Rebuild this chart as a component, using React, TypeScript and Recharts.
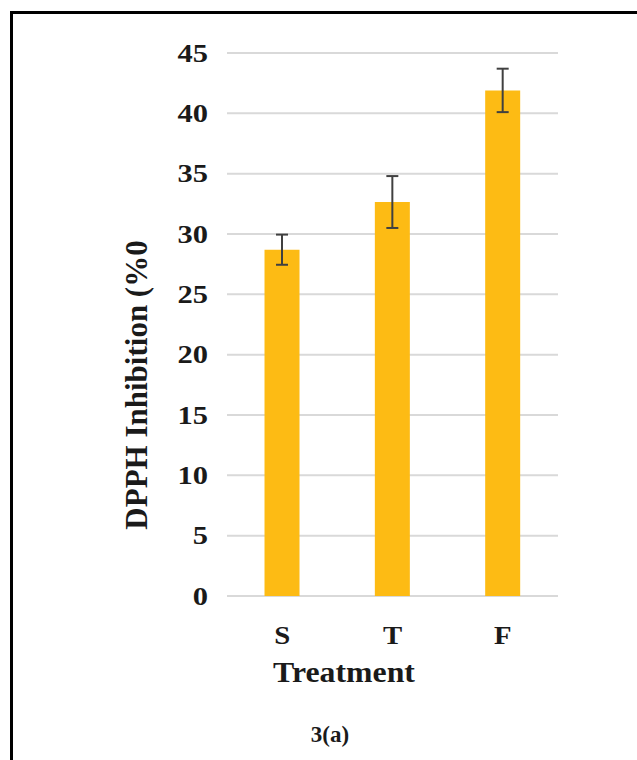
import React from "react";
import { BarChart, Bar, XAxis, YAxis, CartesianGrid, ErrorBar, Label } from "recharts";

const categories = ["S", "T", "F"];
const inhibition = [28.7, 32.65, 41.9];
const errors = [1.25, 2.15, 1.8];
const yTicks = [0, 5, 10, 15, 20, 25, 30, 35, 40, 45];

const data = categories.map((c, i) => ({ name: c, value: inhibition[i], err: errors[i] }));

const FONT = "'Liberation Serif', 'Times New Roman', serif";

const YTick = (props: any) => {
  const { x, y, payload } = props;
  return (
    <text
      transform={`translate(${x},${y}) scale(1.22,1)`}
      x={0}
      y={0}
      dy="0.35em"
      textAnchor="end"
      fontFamily={FONT}
      fontWeight="bold"
      fontSize={25}
      fill="#1a1a1a"
    >
      {payload.value}
    </text>
  );
};

const XTick = (props: any) => {
  const { x, y, payload } = props;
  return (
    <text
      transform={`translate(${x},${y}) scale(1.15,1)`}
      x={0}
      y={0}
      dy="0.71em"
      textAnchor="middle"
      fontFamily={FONT}
      fontWeight="bold"
      fontSize={25}
      fill="#1a1a1a"
    >
      {payload.value}
    </text>
  );
};

export default function App() {
  return (
    <div style={{ position: "fixed", left: 0, top: 0, width: 637, height: 760, overflow: "hidden", background: "#fff" }}>
      <div
        style={{
          position: "absolute",
          left: 10,
          top: 11,
          width: 700,
          height: 800,
          borderLeft: "3px solid #000",
          borderTop: "3px solid #000",
        }}
      />
      <div style={{ position: "absolute", left: 0, top: 0 }}>
        <BarChart
          width={637}
          height={760}
          data={data}
          margin={{ top: 53, right: 79, bottom: 0, left: 0 }}
          barCategoryGap="34%"
        >
          <CartesianGrid vertical={false} stroke="#d9d9d9" strokeWidth={2} />
          <XAxis
            dataKey="name"
            axisLine={false}
            tickLine={false}
            tickSize={0}
            tickMargin={30}
            tick={<XTick />}
            height={164}
          >
            <Label
              content={() => (
                <text
                  transform="translate(344,682) scale(1.06,1)"
                  x={0}
                  y={0}
                  textAnchor="middle"
                  fontFamily={FONT}
                  fontWeight="bold"
                  fontSize={30}
                  fill="#1a1a1a"
                >
                  Treatment
                </text>
              )}
            />
          </XAxis>
          <YAxis
            type="number"
            domain={[0, 45]}
            ticks={yTicks}
            interval={0}
            axisLine={false}
            tickLine={false}
            tickSize={0}
            tickMargin={19}
            width={227}
            tick={<YTick />}
          >
            <Label
              content={() => (
                <text
                  transform="translate(147,385) rotate(-90)"
                  x={0}
                  y={0}
                  textAnchor="middle"
                  fontFamily={FONT}
                  fontWeight="bold"
                  fontSize={31}
                  fill="#1a1a1a"
                >
                  DPPH Inhibition (%0
                </text>
              )}
            />
          </YAxis>
          <Bar dataKey="value" fill="#FDBB14" isAnimationActive={false}>
            <ErrorBar dataKey="err" width={6} stroke="#404040" strokeWidth={2} direction="y" />
          </Bar>
        </BarChart>
      </div>
      <div
        style={{
          position: "absolute",
          left: 280,
          top: 722,
          width: 100,
          textAlign: "center",
          fontFamily: FONT,
          fontWeight: "bold",
          fontSize: 23,
          lineHeight: "26px",
          color: "#1a1a1a",
        }}
      >
        3(a)
      </div>
    </div>
  );
}
